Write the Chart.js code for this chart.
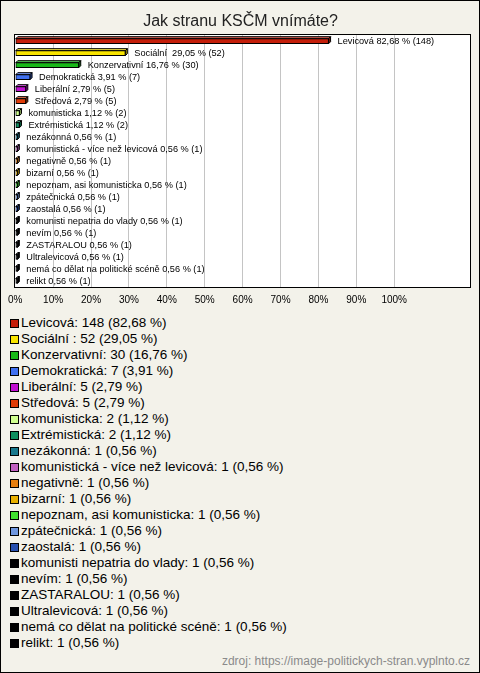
<!DOCTYPE html>
<html lang="cs">
  <head>
    <title>Jak stranu KSČM vnímáte?</title>
    <meta charset="utf-8" />
    <script src="https://cdn.jsdelivr.net/npm/chart.js@4.4.1/dist/chart.umd.min.js"></script>
    <style>
      body { margin: 0; font-family: "Liberation Sans", Arial, sans-serif; }
      #wrap {
        position: relative; width: 480px; height: 673px; box-sizing: border-box;
        border: 1px solid #000; background: #f3f2ea; overflow: hidden;
      }
      #c { position: absolute; left: 0; top: 0; }
      #legend { position: absolute; left: 9px; top: 314px; margin: 0; padding: 0; list-style: none; }
      #legend li {
        display: flex; align-items: center; height: 16px; line-height: 16px;
        font-size: 13.5px; color: #000; white-space: nowrap;
      }
      #legend .box {
        width: 7px; height: 7px; border: 1px solid #000; margin-right: 2px; flex: none;
      }
      #source {
        position: absolute; right: 9px; top: 653px;
        font-size: 12px; line-height: 14px; color: #8a8a8a;
      }
    </style>
  </head>
  <body>
    <div id="wrap">
      <canvas id="c" width="478" height="310"></canvas>
      <ul id="legend"></ul>
      <div id="source">zdroj: https://image-politickych-stran.vyplnto.cz</div>
    </div>

    <script>
      // data
      var categories = [
        "Levicová", "Sociální ", "Konzervativní", "Demokratická", "Liberální",
        "Středová", "komunisticka", "Extrémistická", "nezákonná",
        "komunistická - více než levicová", "negativně", "bizarní",
        "nepoznam, asi komunisticka", "zpátečnická", "zaostalá",
        "komunisti nepatria do vlady", "nevím", "ZASTARALOU", "Ultralevicová",
        "nemá co dělat na politické scéně", "relikt"
      ];
      var counts = [148, 52, 30, 7, 5, 5, 2, 2, 1, 1, 1, 1, 1, 1, 1, 1, 1, 1, 1, 1, 1];
      var percents = [82.68, 29.05, 16.76, 3.91, 2.79, 2.79, 1.12, 1.12, 0.56, 0.56, 0.56,
        0.56, 0.56, 0.56, 0.56, 0.56, 0.56, 0.56, 0.56, 0.56, 0.56];
      var colors = [
        "#c41e0a", "#f8e400", "#18b818", "#4070f0", "#c010d0", "#e03c08",
        "#d0ff90", "#109060", "#18788c", "#c060c0", "#e88010", "#e8b000",
        "#40e030", "#7098e0", "#2850b0", "#000000", "#000000", "#000000",
        "#000000", "#000000", "#000000"
      ];
      var xTicks = [0, 10, 20, 30, 40, 50, 60, 70, 80, 90, 100];

      function fmt(v) {
        return v.toFixed(2).replace(".", ",");
      }

      function shade(hex, f) {
        var n = parseInt(hex.slice(1), 16);
        var r = (n >> 16) & 255, g = (n >> 8) & 255, b = n & 255;
        if (f < 0) {
          r = Math.round(r * (1 + f)); g = Math.round(g * (1 + f)); b = Math.round(b * (1 + f));
        } else {
          r = Math.round(r + (255 - r) * f); g = Math.round(g + (255 - g) * f); b = Math.round(b + (255 - b) * f);
        }
        return "rgb(" + r + "," + g + "," + b + ")";
      }

      // white plot area, 3d bar depth, value labels, frame
      var barLook = {
        id: "barLook",
        beforeDraw: function (chart) {
          var a = chart.chartArea, ctx = chart.ctx;
          ctx.save();
          ctx.fillStyle = "#fff";
          ctx.fillRect(a.left, a.top, a.right - a.left, a.bottom - a.top);
          ctx.restore();
        },
        beforeDatasetsDraw: function (chart) {
          var ctx = chart.ctx, d = 2;
          ctx.save();
          ctx.lineWidth = 1;
          ctx.strokeStyle = "#000";
          chart.getDatasetMeta(0).data.forEach(function (el, i) {
            var p = el.getProps(["x", "y", "base", "height"], true);
            var x0 = p.base, x1 = p.x, top = p.y - p.height / 2, bot = p.y + p.height / 2;
            ctx.beginPath();
            ctx.moveTo(x0, top);
            ctx.lineTo(x0 + d, top - d);
            ctx.lineTo(x1 + d, top - d);
            ctx.lineTo(x1, top);
            ctx.closePath();
            ctx.fillStyle = shade(colors[i], 0.3);
            ctx.fill();
            ctx.stroke();
            ctx.beginPath();
            ctx.moveTo(x1, top);
            ctx.lineTo(x1 + d, top - d);
            ctx.lineTo(x1 + d, bot - d);
            ctx.lineTo(x1, bot);
            ctx.closePath();
            ctx.fillStyle = shade(colors[i], -0.4);
            ctx.fill();
            ctx.stroke();
          });
          ctx.restore();
        },
        afterDatasetsDraw: function (chart) {
          var ctx = chart.ctx, a = chart.chartArea;
          ctx.save();
          ctx.font = '9.2px "Liberation Sans", Arial, sans-serif';
          ctx.fillStyle = "#000";
          ctx.textBaseline = "middle";
          chart.getDatasetMeta(0).data.forEach(function (el, i) {
            var txt = categories[i] + " " + fmt(percents[i]) + " % (" + counts[i] + ")";
            ctx.fillText(txt, el.x + 9, el.y);
          });
          ctx.strokeStyle = "#000";
          ctx.lineWidth = 1;
          ctx.strokeRect(Math.round(a.left) - 0.5, Math.round(a.top) - 0.5,
            Math.round(a.right - a.left) + 1, Math.round(a.bottom - a.top) + 1);
          ctx.restore();
        }
      };

      new Chart(document.getElementById("c"), {
        type: "bar",
        data: {
          labels: categories,
          datasets: [{
            data: percents,
            backgroundColor: colors,
            borderColor: "#000",
            borderWidth: 1,
            borderSkipped: false,
            barThickness: 5
          }]
        },
        options: {
          indexAxis: "y",
          responsive: false,
          animation: false,
          events: [],
          layout: { padding: { left: 10, right: 9, top: 0, bottom: 4 } },
          plugins: {
            legend: { display: false },
            tooltip: { enabled: false },
            title: {
              display: true,
              text: "Jak stranu KSČM vnímáte?",
              color: "#222",
              font: { family: '"Liberation Sans", Arial, sans-serif', size: 16, weight: "normal" },
              padding: { top: 11, bottom: 4 }
            }
          },
          scales: {
            x: {
              min: 0,
              max: 120,
              afterBuildTicks: function (scale) {
                scale.ticks = xTicks.map(function (v) { return { value: v }; });
              },
              afterFit: function (scale) {
                scale.height = 20;
              },
              grid: {
                drawTicks: false,
                color: function (c) {
                  return c.tick && c.tick.value > 0 && c.tick.value <= 100 ? "#c4c4c4" : "rgba(0,0,0,0)";
                }
              },
              border: { display: false },
              ticks: {
                padding: 7,
                color: "#000",
                font: { family: '"Liberation Sans", Arial, sans-serif', size: 10 },
                callback: function (v) { return v + "%"; }
              }
            },
            y: {
              display: false,
              grid: { display: false }
            }
          }
        },
        plugins: [barLook]
      });

      var ul = document.getElementById("legend");
      categories.forEach(function (name, i) {
        var li = document.createElement("li");
        var box = document.createElement("span");
        box.className = "box";
        box.style.background = colors[i];
        li.appendChild(box);
        li.appendChild(document.createTextNode(name + ": " + counts[i] + " (" + fmt(percents[i]) + " %)"));
        ul.appendChild(li);
      });
    </script>
  </body>
</html>
